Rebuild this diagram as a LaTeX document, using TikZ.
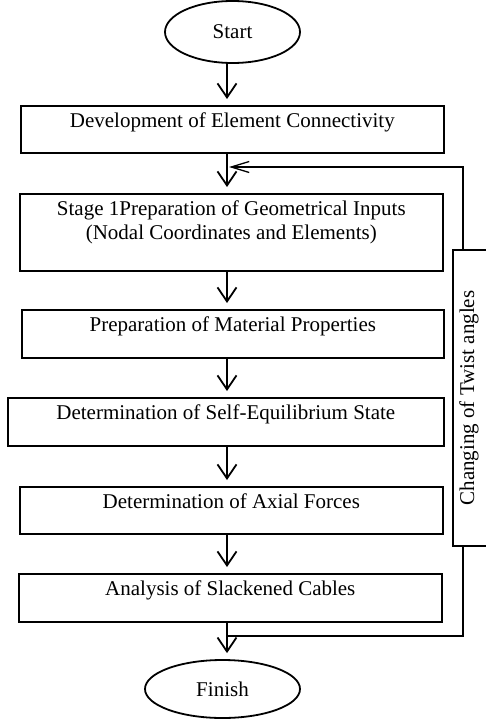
\documentclass[tikz,border=0pt]{standalone}
\usepackage{fontspec}
\setmainfont{Liberation Serif}
\usetikzlibrary{arrows.meta,shapes.geometric}
\tikzset{
  txt/.style={font=\fontsize{21}{24}\selectfont},
  box/.style={txt, draw, line width=1.6pt, rectangle, inner sep=0pt, anchor=north west,
              text height=22pt, align=center},
  term/.style={txt, draw, line width=1.8pt, ellipse, inner sep=0pt},
  arr/.style={line width=1.8pt, shorten >=6pt, -{Straight Barb[length=14pt,width=19pt,line width=1.8pt]}},
  fbline/.style={line width=1.3pt},
  fbarr/.style={line width=1.3pt, -{Straight Barb[length=18pt,width=11pt,line width=1.3pt]}},
  sidebox/.style={txt, draw, line width=1.4pt, rectangle, inner sep=0pt, rotate=90,
                  text height=15pt, text depth=13pt}
}
\begin{document}
\begin{tikzpicture}[x=1pt,y=-1pt]
\useasboundingbox (0,0) rectangle (485,720);
\coordinate (ax) at (227,0);
% terminals
\node[term, minimum width=135pt, minimum height=62pt] (start) at (232.5,32) {Start};
\node[term, minimum width=155pt, minimum height=58pt] (finish) at (222.5,689) {Finish};
% process boxes
\node[box, minimum width=423pt, minimum height=47pt, text depth=25pt] (b1) at (20,105) {Development of Element Connectivity};
\node[box, minimum width=423pt, minimum height=77pt, text depth=55pt] (b2) at (19,193)
  {\begin{tabular}[t]{@{}c@{}}Stage 1Preparation of Geometrical Inputs\\(Nodal Coordinates and Elements)\end{tabular}};
\node[box, minimum width=422pt, minimum height=48pt, text depth=26pt] (b3) at (21,309) {Preparation of Material Properties};
\node[box, minimum width=436pt, minimum height=48pt, text depth=26pt] (b4) at (7,397) {Determination of Self-Equilibrium State};
\node[box, minimum width=423pt, minimum height=47pt, text depth=25pt] (b5) at (19,486) {Determination of Axial Forces};
\node[box, minimum width=423pt, minimum height=48pt, text depth=26pt] (b6) at (18,573) {Analysis of Slackened Cables};
% side box (its right edge lies beyond the picture's edge)
\node[sidebox, minimum width=296pt, minimum height=40pt] (side) at (473,398) {Changing of Twist angles};
% main arrows
\draw[arr] (start.south -| ax) -- (b1.north -| ax);
\draw[arr] (b1.south -| ax) -- (b2.north -| ax);
\draw[arr] (b2.south -| ax) -- (b3.north -| ax);
\draw[arr] (b3.south -| ax) -- (b4.north -| ax);
\draw[arr] (b4.south -| ax) -- (b5.north -| ax);
\draw[arr] (b5.south -| ax) -- (b6.north -| ax);
\draw[arr] (b6.south -| ax) -- (finish.north -| ax);
% feedback loop
\coordinate (j1) at (227,636);
\coordinate (c1) at (463,636);
\coordinate (c2) at (463,167);
\coordinate (j2) at (229,167);
\draw[fbline] (j1) -- (c1) -- (side.west -| c1);
\draw[fbarr] (side.east -| c2) -- (c2) -- (j2);
\end{tikzpicture}
\end{document}
